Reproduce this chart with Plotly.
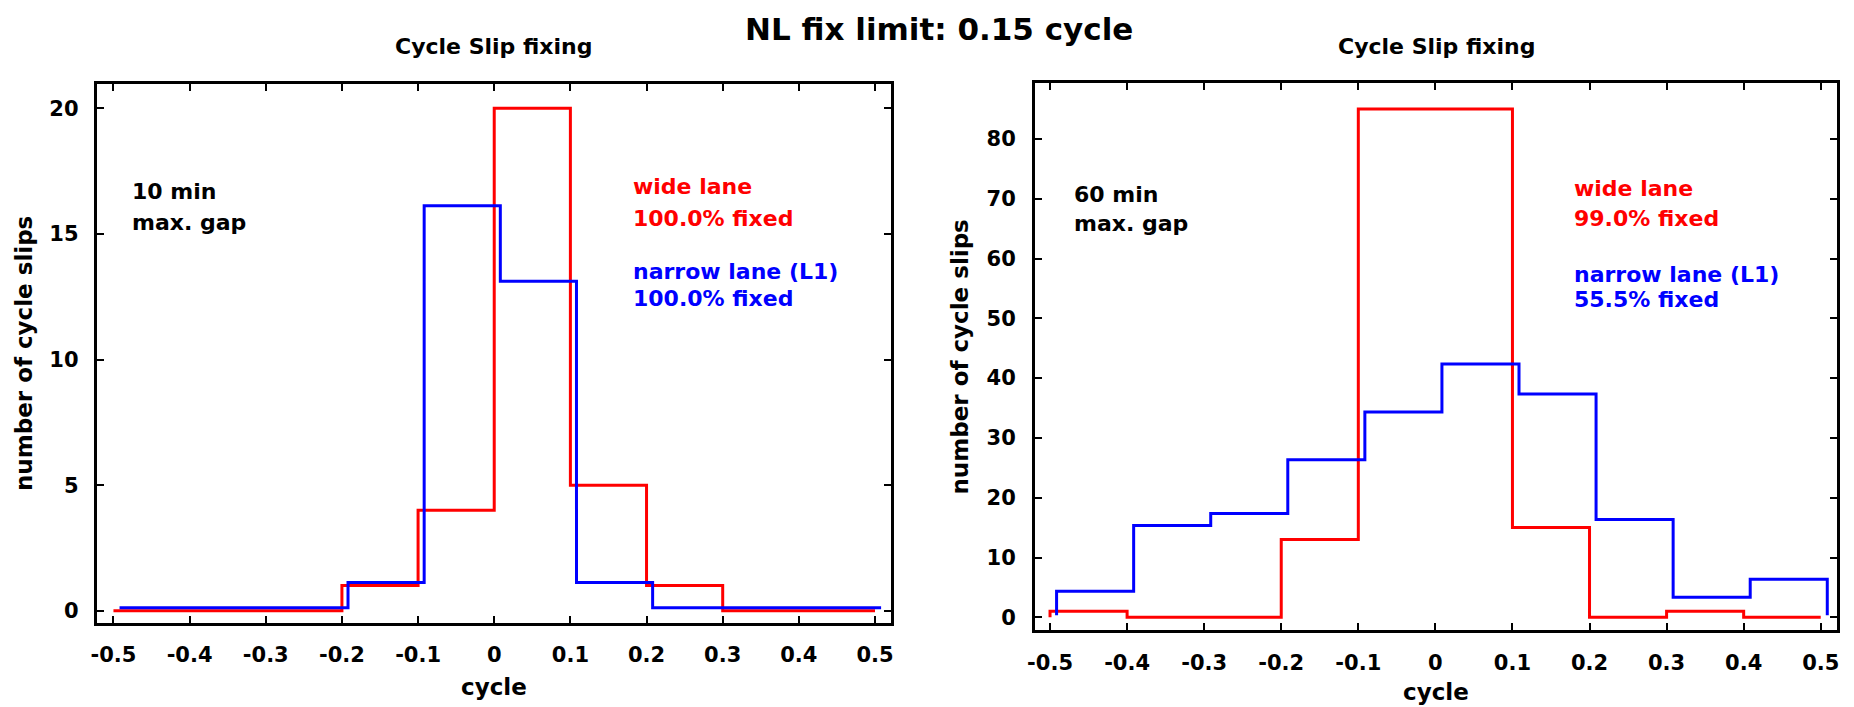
import plotly.graph_objects as go

# ---------------- data ----------------
bin_edges = [-0.5, -0.4, -0.3, -0.2, -0.1, 0.0, 0.1, 0.2, 0.3, 0.4, 0.5]

# 10 min max. gap
left_wide_lane = [0, 0, 0, 1, 4, 20, 5, 1, 0, 0]
left_narrow_lane = [0, 0, 0, 1, 16, 13, 1, 0, 0, 0]

# 60 min max. gap
right_wide_lane = [1, 0, 0, 13, 85, 85, 15, 0, 1, 0]
right_narrow_lane = [4, 15, 17, 26, 34, 42, 37, 16, 3, 6]

x_tick_vals = [-0.5, -0.4, -0.3, -0.2, -0.1, 0.0, 0.1, 0.2, 0.3, 0.4, 0.5]
x_tick_text = ["-0.5", "-0.4", "-0.3", "-0.2", "-0.1", "0", "0.1", "0.2", "0.3", "0.4", "0.5"]
left_y_ticks = [0, 5, 10, 15, 20]
right_y_ticks = [0, 10, 20, 30, 40, 50, 60, 70, 80]

main_title = "NL fix limit: 0.15 cycle"
panel_title = "Cycle Slip fixing"
x_title = "cycle"
y_title = "number of cycle slips"
left_gap = ["10 min", "max. gap"]
right_gap = ["60 min", "max. gap"]
left_wide_text = ["wide lane", "100.0% fixed"]
left_narrow_text = ["narrow lane (L1)", "100.0% fixed"]
right_wide_text = ["wide lane", "99.0% fixed"]
right_narrow_text = ["narrow lane (L1)", "55.5% fixed"]

# ---------------- style ----------------
W, H = 1854, 707
FONT = "DejaVu Sans"
RED = "#ff0000"
BLUE = "#0000ff"


def px(x):
    return x / W


def py(y):
    return 1 - y / H


def step_xy(edges, counts, dx=0.0, dy=0.0):
    xs = [edges[0] + dx] + [e + dx for e in edges]
    ys = [0 + dy] + [c + dy for c in counts] + [0 + dy]
    return xs, ys


fig = go.Figure()

# left panel
for counts, color, dx, dy in [(left_wide_lane, RED, 0.0, 0.0),
                              (left_narrow_lane, BLUE, 0.008, 0.12)]:
    xs, ys = step_xy(bin_edges, counts, dx, dy)
    fig.add_trace(go.Scatter(x=xs, y=ys, mode="lines", line=dict(color=color, width=3, shape="hv"),
                             xaxis="x", yaxis="y", showlegend=False, hoverinfo="skip"))

# right panel
for counts, color, dx, dy in [(right_wide_lane, RED, 0.0, 0.0),
                              (right_narrow_lane, BLUE, 0.0085, 0.35)]:
    xs, ys = step_xy(bin_edges, counts, dx, dy)
    fig.add_trace(go.Scatter(x=xs, y=ys, mode="lines", line=dict(color=color, width=3, shape="hv"),
                             xaxis="x2", yaxis="y2", showlegend=False, hoverinfo="skip"))

tickfont = dict(family=FONT, size=21, color="black", weight="bold")
common_axis = dict(showline=True, linecolor="black", linewidth=3, mirror="allticks",
                   ticks="inside", ticklen=7, tickwidth=2, tickcolor="black",
                   showgrid=False, zeroline=False, tickfont=tickfont, automargin=False)

fig.update_layout(
    width=W, height=H,
    margin=dict(l=0, r=0, t=0, b=0),
    paper_bgcolor="white", plot_bgcolor="white",
    font=dict(family=FONT, weight="bold", color="black"),
    xaxis=dict(domain=[px(96.7), px(891)], range=[-0.522, 0.521], anchor="y",
               tickmode="array", tickvals=x_tick_vals, ticktext=x_tick_text,
               ticklabelstandoff=10, **common_axis),
    yaxis=dict(domain=[py(623.3), py(84)], range=[-0.5, 20.97], anchor="x",
               tickmode="array", tickvals=left_y_ticks, ticktext=[str(v) for v in left_y_ticks],
               ticklabelstandoff=11, **common_axis),
    xaxis2=dict(domain=[px(1035), px(1837.3)], range=[-0.5195, 0.5215], anchor="y2",
                tickmode="array", tickvals=x_tick_vals, ticktext=x_tick_text,
                ticklabelstandoff=12, **common_axis),
    yaxis2=dict(domain=[py(630), py(83)], range=[-2.12, 89.35], anchor="x2",
                tickmode="array", tickvals=right_y_ticks, ticktext=[str(v) for v in right_y_ticks],
                ticklabelstandoff=12, **common_axis),
)


def ann(text, x, y, size=22, color="black", xanchor="left", angle=0):
    fig.add_annotation(text=text, x=px(x), y=py(y), xref="paper", yref="paper",
                       xanchor=xanchor, yanchor="middle", showarrow=False, textangle=angle,
                       borderpad=0,
                       font=dict(family=FONT, size=size, color=color, weight="bold"))


# titles
ann(main_title, 939, 29, size=31, xanchor="center")
ann(panel_title, 494, 47, size=22, xanchor="center")
ann(panel_title, 1436, 47, size=22, xanchor="center")

# axis titles
ann(x_title, 494, 687, size=23, xanchor="center")
ann(x_title, 1436, 692, size=23, xanchor="center")
ann(y_title, 24, 354, size=23, xanchor="center", angle=-90)
ann(y_title, 959.5, 357, size=23, xanchor="center", angle=-90)

# panel texts, left
ann(left_gap[0], 130.7, 191.7)
ann(left_gap[1], 130.7, 222.5)
ann(left_wide_text[0], 631.7, 186.7, color=RED)
ann(left_wide_text[1], 631.7, 218, color=RED)
ann(left_narrow_text[0], 631.7, 271.5, color=BLUE)
ann(left_narrow_text[1], 631.7, 298, color=BLUE)

# panel texts, right
ann(right_gap[0], 1073.3, 195)
ann(right_gap[1], 1073.3, 223)
ann(right_wide_text[0], 1573.3, 188.3, color=RED)
ann(right_wide_text[1], 1573.3, 219, color=RED)
ann(right_narrow_text[0], 1573.3, 274, color=BLUE)
ann(right_narrow_text[1], 1573.3, 299.5, color=BLUE)

fig.write_html("out.html",
               config={"displayModeBar": False},
               post_script="document.body.style.margin='0';document.body.style.overflow='hidden';")
